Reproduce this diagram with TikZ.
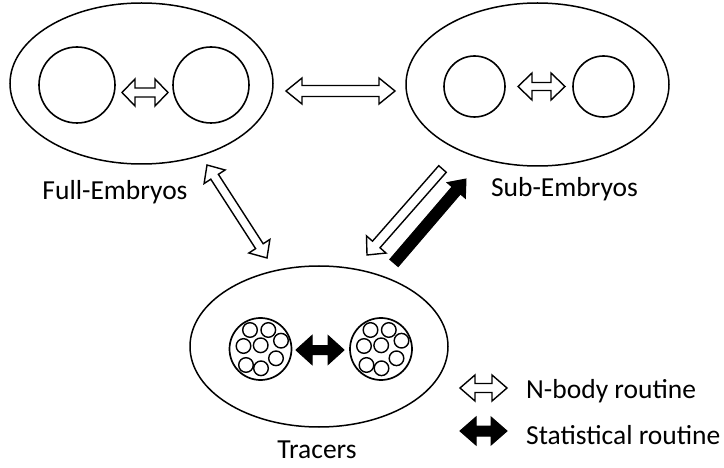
\documentclass[tikz,border=0pt]{standalone}
\usepackage{fontspec}
\setmainfont{Carlito}
\usetikzlibrary{shapes.geometric,calc}
\newcommand{\blockprep}[3]{%
  \path let \p1=($(#2)-(#1)$), \n1={atan2(\y1,\x1)}, \n2={veclen(\x1,\y1)} in \pgfextra{\xdef\baAngRaw{\n1}\xdef\baLenRaw{\n2}};
  \pgfmathsetmacro\baA{\baAngRaw}
  \pgfmathsetmacro\baL{\baLenRaw}
  \pgfmathsetmacro\baB{\baL-#3}}
\newcommand{\dblblock}[6]{%
  \blockprep{#1}{#2}{#5}%
  \draw[#6,shift={(#1)},rotate=\baA] (0pt,0pt) -- (#5pt,#4pt) -- (#5pt,#3pt) -- (\baB pt,#3pt) -- (\baB pt,#4pt) -- (\baL pt,0pt) -- (\baB pt,-#4pt) -- (\baB pt,-#3pt) -- (#5pt,-#3pt) -- (#5pt,-#4pt) -- cycle;}
\newcommand{\sglblock}[6]{%
  \blockprep{#1}{#2}{#5}%
  \draw[#6,shift={(#1)},rotate=\baA] (0pt,#3pt) -- (\baB pt,#3pt) -- (\baB pt,#4pt) -- (\baL pt,0pt) -- (\baB pt,-#4pt) -- (\baB pt,-#3pt) -- (0pt,-#3pt) -- cycle;}
\tikzset{
  oval/.style={ellipse,draw,line width=1.5pt,inner sep=0pt},
  ring/.style={circle,draw,line width=1.6pt,inner sep=0pt},
  hollow/.style={draw=black,fill=white,line width=1.4pt,line join=miter},
  solid/.style={draw=black,fill=black,line width=1pt,line join=miter},
  lbl/.style={inner sep=0pt,font=\fontsize{27.5pt}{32pt}\selectfont},
  cluster/.pic={
    \node[ring,line width=1.7pt,minimum size=62pt] (-c) at (0,0) {};
    \foreach \a/\b in {-10.5/-19,7.8/-19,20.5/-8.3,-17/-3,0.2/-3.7,15.5/9.3,-14.5/16,0.5/19.3}
      \draw[line width=1.4pt] (\a,\b) circle (7.3pt);
  }
}
\begin{document}
\begin{tikzpicture}[x=1pt,y=-1pt]
\useasboundingbox (0,0) rectangle (724,468);
% ellipses
\node[oval,minimum width=263pt,minimum height=161pt] (full) at (141.5,83.5) {};
\node[oval,minimum width=263pt,minimum height=163pt] (sub) at (537.5,84.5) {};
\node[oval,minimum width=258pt,minimum height=161pt] (trac) at (319,346.5) {};
% circles
\node[ring,minimum size=76pt] (f1) at (77,85) {};
\node[ring,minimum size=76pt] (f2) at (211,85) {};
\node[ring,minimum size=61pt] (s1) at (474.5,86.5) {};
\node[ring,minimum size=61pt] (s2) at (603.5,86.5) {};
\pic (lc) at (260.5,349) {cluster};
\pic (rc) at (381,349) {cluster};
% labels
\node[lbl,anchor=base] (lfull) at (115,200) {Full-Embryos};
\node[lbl,anchor=base] (lsub) at (564.5,197) {Sub-Embryos};
\node[lbl,anchor=base] (ltrac) at (317,458) {Tracers};
\node[lbl,anchor=base west] (lnb) at (526,399) {N-body routine};
\node[lbl,anchor=base west] (lst) at (526,444) {Statistical routine};
% arrow end points
\coordinate (fa1) at (122,92.5); \coordinate (fa2) at (168,92.5);
\coordinate (sa1) at (518,86.5); \coordinate (sa2) at (565,86.5);
\coordinate (ma1) at (286,91); \coordinate (ma2) at (395,91);
\coordinate (da1) at (207,165); \coordinate (da2) at (267,258);
\coordinate (ha1) at (442.5,169); \coordinate (ha2) at (367,255);
\coordinate (ba1) at (394,263); \coordinate (ba2) at (466,179);
\coordinate (ta1) at (296,350); \coordinate (ta2) at (344,350);
\coordinate (ln1) at (460,388); \coordinate (ln2) at (507,388);
\coordinate (ls1) at (460,431); \coordinate (ls2) at (507,431);
% arrows
\dblblock{fa1}{fa2}{4.5}{13.5}{13}{hollow}
\dblblock{sa1}{sa2}{4}{13.5}{14}{hollow}
\dblblock{ma1}{ma2}{5.5}{13}{16}{hollow}
\dblblock{da1}{da2}{4.5}{12.5}{14}{hollow}
\sglblock{ha1}{ha2}{5}{13}{14}{hollow}
\sglblock{ba1}{ba2}{5.5}{12}{15}{solid}
\dblblock{ta1}{ta2}{4.5}{14.5}{16}{solid}
\dblblock{ln1}{ln2}{4.5}{13}{15}{hollow}
\dblblock{ls1}{ls2}{5}{14}{16}{solid}
\end{tikzpicture}
\end{document}
